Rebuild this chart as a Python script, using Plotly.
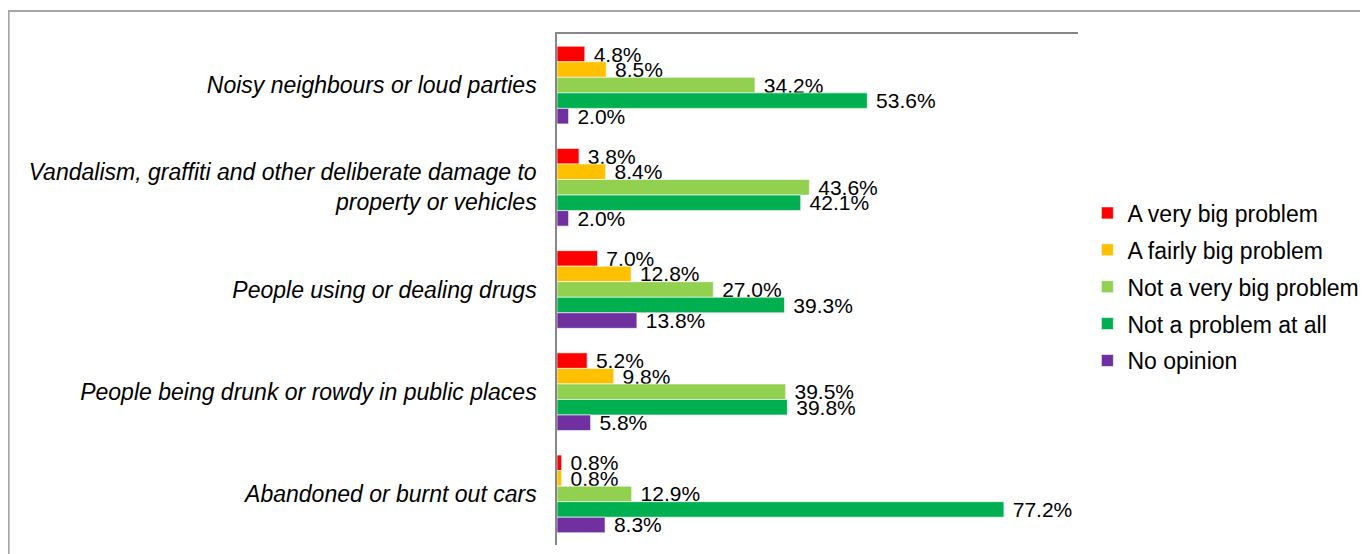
import plotly.graph_objects as go

categories = [
    "Noisy neighbours or loud parties",
    "Vandalism, graffiti and other deliberate damage to<br>property or vehicles",
    "People using or dealing drugs",
    "People being drunk or rowdy in public places",
    "Abandoned or burnt out cars",
]
series_names = [
    "A very big problem",
    "A fairly big problem",
    "Not a very big problem",
    "Not a problem at all",
    "No opinion",
]
very_big = [4.8, 3.8, 7.0, 5.2, 0.8]
fairly_big = [8.5, 8.4, 12.8, 9.8, 0.8]
not_very_big = [34.2, 43.6, 27.0, 39.5, 12.9]
not_at_all = [53.6, 42.1, 39.3, 39.8, 77.2]
no_opinion = [2.0, 2.0, 13.8, 5.8, 8.3]
values = [very_big, fairly_big, not_very_big, not_at_all, no_opinion]
colors = ["#FF0000", "#FFC000", "#92D050", "#00B050", "#7030A0"]

fig = go.Figure()
for name, vals, col in zip(series_names, values, colors):
    fig.add_trace(go.Bar(
        y=categories, x=vals, name=name, orientation="h",
        marker=dict(color=col, line=dict(color="white", width=0.6)),
        texttemplate="\u00a0%{x:.1f}%", textposition="outside",
        textfont=dict(family="Liberation Sans, Arial", size=21, color="black"),
        constraintext="none", cliponaxis=False,
        legendgroup=name,
    ))

# page has an 8px body margin; figure is wider than the window so the
# legend does not push the right margin (the overflow is simply cropped)
fig.update_layout(
    width=1400, height=546,
    barmode="group", bargap=0.24, bargroupgap=0,
    margin=dict(l=549, r=330, t=26, b=9),
    plot_bgcolor="white", paper_bgcolor="white",
    font=dict(family="Liberation Sans, Arial", color="black"),
    legend=dict(
        x=1.018, xanchor="left", y=0.505, yanchor="middle",
        traceorder="grouped", tracegroupgap=4,
        font=dict(size=23), itemwidth=30,
    ),
    showlegend=True,
)
fig.update_xaxes(
    range=[0, 90], side="top", showline=True, linecolor="#868686", linewidth=1.5,
    showgrid=False, showticklabels=False, ticks="", zeroline=False,
)
fig.update_yaxes(
    autorange="reversed", showline=True, linecolor="#868686", linewidth=1.5,
    ticks="", ticklabelstandoff=14, showgrid=False,
    tickfont=dict(family="Liberation Sans, Arial", size=23, style="italic"),
)

# outer chart frame (only its top and left edges are inside the window)
fig.add_shape(type="rect", xref="paper", yref="paper",
              x0=-1.0525, x1=1.8, y0=-0.2, y1=1.045,
              line=dict(color="#A6A6A6", width=2), fillcolor="rgba(0,0,0,0)", layer="below")

fig.write_html("out.html")
